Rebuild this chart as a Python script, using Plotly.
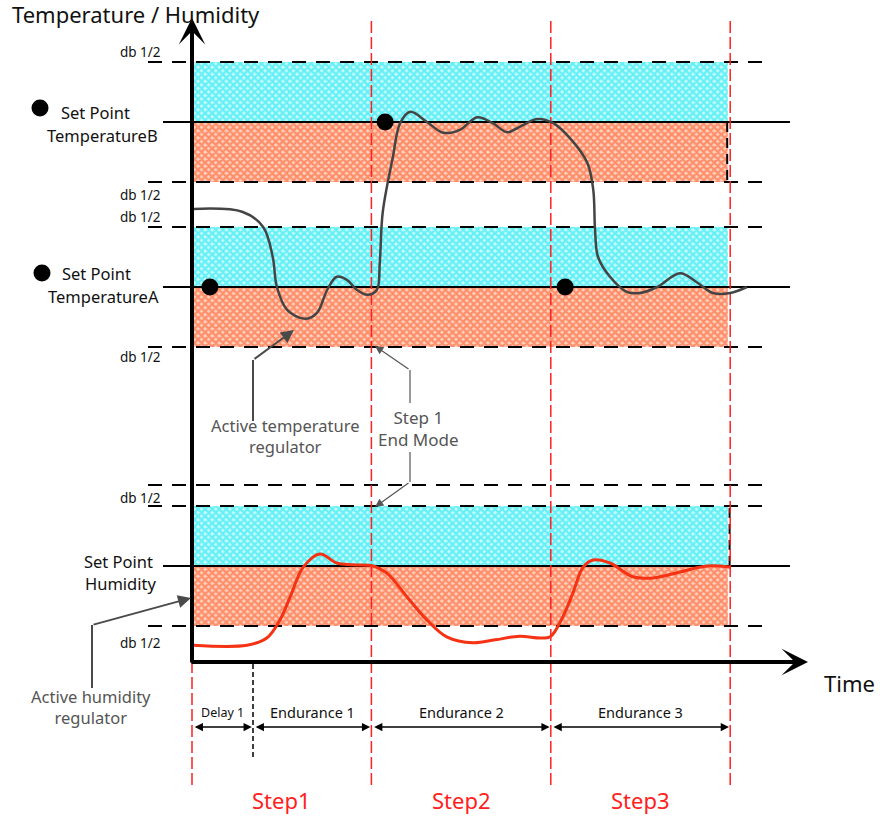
import plotly.graph_objects as go

# ---------------- data ----------------
step_bounds = [0, 30, 60, 90]                 # minutes
step_labels = ["Step1", "Step2", "Step3"]
phase_bounds = [0, 10.2, 30, 60, 90]
phase_labels = ["Delay 1", "Endurance 1", "Endurance 2", "Endurance 3"]
delay_end = 10.2

sp_temp_b = 90
sp_temp_a = 62.5
sp_hum = 16
db_half = 10
hum_extra_db = 29.5

temp_t = [0.2, 8.5, 11.9, 13.5, 14.2, 15.9, 18.9, 20.9, 22.6, 24.2, 25.9, 27.6, 29.3, 30.9, 31.4,
          31.9, 33.6, 34.8, 36.5, 39.3, 42.0, 44.8, 47.7, 50.3, 52.7, 54.8, 57.7, 60.4, 63.2, 66.1,
          67.1, 67.4, 67.9, 69.9, 72.7, 74.9, 77.8, 81.6, 84.4, 87.1, 90.0, 92.8]
temp_v = [75.5, 75.0, 72.5, 67.5, 62.5, 58.7, 57.2, 58.2, 62.0, 64.2, 63.7, 62.0, 61.2, 62.0, 66.5,
          75.0, 84.2, 89.8, 91.7, 90.0, 88.2, 88.7, 90.8, 89.8, 88.3, 89.2, 90.5, 89.8, 87.3, 83.2,
          78.7, 72.0, 67.5, 64.2, 61.7, 61.5, 62.5, 64.8, 63.3, 61.5, 61.5, 62.5]

hum_t = [0.2, 9.2, 12.5, 14.7, 16.4, 18.6, 21.4, 24.2, 26.9, 30.3, 32.6, 36.0, 39.3, 42.6, 47.0,
         50.7, 54.8, 58.2, 59.9, 62.0, 63.7, 65.4, 67.1, 69.9, 73.7, 77.1, 81.6, 86.1, 90.0]
hum_v = [2.8, 2.8, 4.0, 7.0, 10.8, 15.8, 18.0, 16.5, 16.2, 16.0, 14.8, 10.8, 7.0, 4.2, 3.2,
         3.7, 4.3, 4.0, 4.2, 7.5, 11.5, 15.8, 17.0, 16.5, 14.2, 14.0, 15.0, 16.0, 15.8]

reach_t = [3.0, 32.3, 62.4]
reach_v = [sp_temp_a, sp_temp_b, sp_temp_a]

# ---------------- layout helpers (pixel -> data) ----------------
W, H = 880, 823
X0, KX, Y0, KY = 192, 5.98, 662, 6.0
def tx(px): return (px - X0) / KX
def vy(py): return (Y0 - py) / KY

FONT = "Noto Sans"
CYAN = "#00e6f0"
ORANGE = "#ff4a12"
RED = "#ff2020"
GRAY = "#4a4a4a"

fig = go.Figure()

# hatched bands
band_x0, band_x1 = 0.15, 89.6
def band(lo, hi, color, bg):
    fig.add_trace(go.Scatter(
        x=[band_x0, band_x1, band_x1, band_x0, band_x0], y=[lo, lo, hi, hi, lo],
        mode="lines", fill="toself", line=dict(width=0),
        fillcolor="rgba(0,0,0,0)",
        fillpattern=dict(shape="x", fgcolor=color, bgcolor=bg, size=5, solidity=0.7),
        hoverinfo="skip"))

for sp in [sp_temp_b, sp_temp_a, sp_hum]:
    band(sp, sp + db_half, CYAN, "#c8fafd")
    band(sp - db_half, sp, ORANGE, "#ffd2c0")

# dashed db lines
db_levels = [sp_temp_b + db_half, sp_temp_b - db_half, sp_temp_a + db_half,
             sp_temp_a - db_half, hum_extra_db, sp_hum + db_half, sp_hum - db_half]
for lv in db_levels:
    fig.add_trace(go.Scatter(x=[tx(148), tx(770)], y=[lv, lv], mode="lines",
                             line=dict(color="black", width=2, dash="14px,10px"), hoverinfo="skip"))
# small dashed verticals at right band edges
fig.add_trace(go.Scatter(x=[89.5, 89.5], y=[sp_temp_b, sp_temp_b - db_half], mode="lines",
                         line=dict(color="black", width=2, dash="10px,6px"), hoverinfo="skip"))
fig.add_trace(go.Scatter(x=[89.9, 89.9], y=[sp_hum, sp_hum + db_half], mode="lines",
                         line=dict(color="black", width=2, dash="10px,6px"), hoverinfo="skip"))

# solid set point lines
for sp in [sp_temp_b, sp_temp_a, sp_hum]:
    fig.add_trace(go.Scatter(x=[tx(163), tx(790)], y=[sp, sp], mode="lines",
                             line=dict(color="black", width=2), hoverinfo="skip"))

# red step boundaries
for b in step_bounds:
    fig.add_trace(go.Scatter(x=[b, b], y=[vy(785), vy(20)], mode="lines",
                             line=dict(color=RED, width=1.5, dash="12px,4px"), hoverinfo="skip"))
# delay divider
fig.add_trace(go.Scatter(x=[delay_end, delay_end], y=[vy(664), vy(757)], mode="lines",
                         line=dict(color="black", width=1.5, dash="5px,3px"), hoverinfo="skip"))

# curves
fig.add_trace(go.Scatter(x=hum_t, y=hum_v, mode="lines",
                         line=dict(color="#f53214", width=3, shape="spline", smoothing=1.0),
                         hoverinfo="skip"))
fig.add_trace(go.Scatter(x=temp_t, y=temp_v, mode="lines",
                         line=dict(color="#444444", width=2.5, shape="spline", smoothing=1.0),
                         hoverinfo="skip"))

# set-point reached dots
fig.add_trace(go.Scatter(x=reach_t, y=reach_v, mode="markers",
                         marker=dict(color="black", size=17), hoverinfo="skip"))
# legend dots at left
fig.add_trace(go.Scatter(x=[tx(40), tx(42)], y=[vy(108), vy(273)], mode="markers",
                         marker=dict(color="black", size=17), hoverinfo="skip"))

ann = []
def text(s, px, py, size=14, color="#111", xanchor="center", align="center"):
    ann.append(dict(x=tx(px), y=vy(py), text=s, showarrow=False, xanchor=xanchor,
                    yanchor="middle", align=align, font=dict(family=FONT, size=size, color=color)))

def arrow(tip, tail, color, width, head, size, both=False):
    d = dict(x=tip[0], y=tip[1], ax=tail[0], ay=tail[1], xref="x", yref="y",
             axref="x", ayref="y", text="", showarrow=True, arrowcolor=color,
             arrowwidth=width, arrowhead=head, arrowsize=size, standoff=0, startstandoff=0)
    if both:
        d.update(arrowside="end+start", startarrowhead=head, startarrowsize=size)
    ann.append(d)

# axes arrows
arrow((0, vy(18)), (0, vy(664)), "black", 4, 3, 1.1)
arrow((tx(808), 0), (tx(190), 0), "black", 4, 3, 1.1)

# titles
text("Temperature / Humidity", 10, 14, size=22, xanchor="left")
text("Time", 822, 683, size=22, xanchor="left")

# db labels
for py in [52, 195, 217, 357, 498, 643]:
    text("db 1/2", 163, py, size=13.5, xanchor="right")

# set point labels
text("Set Point", 59, 112, size=16.5, xanchor="left")
text("TemperatureB", 45, 135, size=16.5, xanchor="left")
text("Set Point", 60, 273, size=16.5, xanchor="left")
text("TemperatureA", 46, 296, size=16.5, xanchor="left")
text("Set Point", 82, 561, size=16.5, xanchor="left")
text("Humidity", 83, 583, size=16.5, xanchor="left")

# regulator notes
text("Active temperature<br>regulator", 285, 436, size=16.5, color="#555")
text("Step 1<br>End Mode", 418, 428, size=17, color="#555")
text("Active humidity<br>regulator", 91, 707, size=16.5, color="#555")

shapes = []
def seg(p0, p1, color, width):
    shapes.append(dict(type="line", xref="x", yref="y", x0=tx(p0[0]), y0=vy(p0[1]),
                       x1=tx(p1[0]), y1=vy(p1[1]), line=dict(color=color, width=width)))

seg((253, 421), (253, 360), GRAY, 2)
arrow((tx(294), vy(330)), (tx(253), vy(360)), GRAY, 2, 2, 1.3)
seg((92, 688), (92, 625), GRAY, 2)
arrow((tx(191), vy(598)), (tx(92), vy(625)), GRAY, 2, 2, 1.3)
seg((410, 403), (410, 370), "#555", 1.2)
arrow((tx(375), vy(346)), (tx(410), vy(370)), "#555", 1.2, 2, 1.4)
seg((410, 452), (410, 482), "#555", 1.2)
arrow((tx(375), vy(507)), (tx(410), vy(482)), "#555", 1.2, 2, 1.4)

# phase dimension arrows and labels
for i, lab in enumerate(phase_labels):
    a, b = phase_bounds[i], phase_bounds[i + 1]
    arrow((b - 0.2, vy(727)), (a + 0.2, vy(727)), "black", 1.5, 2, 1.1, both=True)
    ann.append(dict(x=(a + b) / 2, y=vy(712), text=lab, showarrow=False, xanchor="center",
                    yanchor="middle",
                    font=dict(family=FONT, size=12.5 if i == 0 else 14.5, color="#111")))

# step labels
for i, lab in enumerate(step_labels):
    ann.append(dict(x=(step_bounds[i] + step_bounds[i + 1]) / 2, y=vy(800), text=lab,
                    showarrow=False, xanchor="center", yanchor="middle",
                    font=dict(family=FONT, size=22, color=RED)))

fig.update_layout(
    width=W, height=H, margin=dict(l=0, r=0, t=0, b=0),
    paper_bgcolor="white", plot_bgcolor="white", showlegend=False, hovermode=False,
    xaxis=dict(range=[tx(0), tx(W)], visible=False, fixedrange=True),
    yaxis=dict(range=[vy(H), vy(0)], visible=False, fixedrange=True),
    annotations=ann, shapes=shapes,
)

fig.write_html("out.html", config={"displayModeBar": False},
               post_script="document.body.style.margin='0';document.body.style.overflow='hidden';")
